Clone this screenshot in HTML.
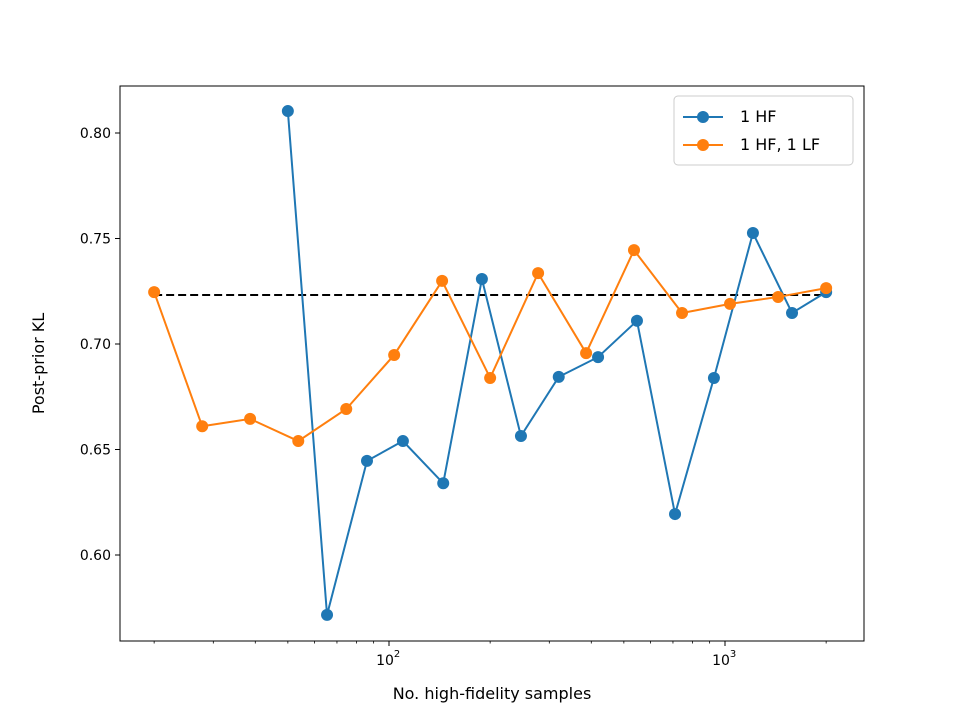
<!DOCTYPE html>
<html><head><meta charset="utf-8"><style>
body{margin:0;background:#fff;}
text{font-family:"DejaVu Sans","Liberation Sans",sans-serif;fill:#000;}
</style></head><body>
<svg id="chart" width="960" height="720" xmlns="http://www.w3.org/2000/svg"></svg>
<script>
const hfX=[50,65.4,86,110,145,189,247,320,419,547,710,927,1211,1583,2000];
const hfY=[0.8104,0.5716,0.6446,0.654,0.634,0.7308,0.6564,0.6844,0.6938,0.711,0.6194,0.6839,0.7526,0.7147,0.7246];
const lfX=[20,27.8,38.6,53.7,74.6,103.6,143.9,200,277.8,386,536,745,1035,1439,2000];
const lfY=[0.7246,0.661,0.6645,0.654,0.6692,0.6948,0.7299,0.6839,0.7336,0.6957,0.7445,0.7147,0.719,0.7223,0.7265];
const refValue=0.7232;
const yTicks=[0.60,0.65,0.70,0.75,0.80];
const yTickLabels=["0.60","0.65","0.70","0.75","0.80"];
const xMajor=[100,1000];

const L=120,R=864,T=86,B=641;
const xs=v=>389+(Math.log10(v)-2)*336;
const ys=v=>555-(v-0.6)*2110;
const svg=document.getElementById('chart');
const NS='http://www.w3.org/2000/svg';
function mk(tag,attrs,parent){const e=document.createElementNS(NS,tag);for(const k in attrs)e.setAttribute(k,attrs[k]);(parent||svg).appendChild(e);return e;}

const frame=mk('rect',{x:L,y:T,width:R-L,height:B-T,fill:'none',stroke:'#000','stroke-width':1});



yTicks.forEach((v,i)=>{
  const y=ys(v);
  const t=mk('line',{x1:L-5,x2:L,y1:y,y2:y,stroke:'#000'});
  
  
  const tx=mk('text',{x:L-9,y:y+5,'text-anchor':'end','font-size':14});
  tx.textContent=yTickLabels[i];
  
  
});
// minor x ticks
for(let d=10;d<=1000;d*=10){for(let m=2;m<=9;m++){const v=d*m;if(v<15||v>2800)continue;const x=xs(v);if(x<L||x>R)continue;
  const t=mk('line',{x1:x,x2:x,y1:B,y2:B+2.5,stroke:'#000','stroke-width':0.8});
  
  }}
xMajor.forEach(v=>{
  const x=xs(v);
  const t=mk('line',{x1:x,x2:x,y1:B,y2:B+5,stroke:'#000'});
  
  
  const tx=mk('text',{x:x-4,y:B+24,'text-anchor':'middle','font-size':14});
  tx.textContent='10';
  
  
  const ex=mk('text',{x:x+8,y:B+16,'text-anchor':'middle','font-size':10});
  ex.textContent=String(Math.round(Math.log10(v)));
  
  
});

const ref=mk('line',{x1:xs(20),x2:xs(2000),y1:ys(refValue),y2:ys(refValue),stroke:'#000','stroke-width':2,'stroke-dasharray':'8,4'});



function series(X,Y,color,name){
  const g=mk('g',{});
  
  
  const pl=mk('polyline',{points:X.map((x,i)=>xs(x)+','+ys(Y[i])).join(' '),fill:'none',stroke:color,'stroke-width':2},g);
  
  
  X.forEach((x,i)=>{const c=mk('circle',{cx:xs(x),cy:ys(Y[i]),r:6,fill:color},g);
    
    });
}
series(hfX,hfY,'#1f77b4','series-1hf');
series(lfX,lfY,'#ff7f0e','series-1hf-1lf');

const ylab=mk('text',{x:44,y:(T+B)/2,'text-anchor':'middle','font-size':16,transform:`rotate(-90 44 ${(T+B)/2})`});
ylab.textContent='Post-prior KL';


const xlab=mk('text',{x:(L+R)/2,y:699,'text-anchor':'middle','font-size':16});
xlab.textContent='No. high-fidelity samples';



const lg=mk('g',{});


mk('rect',{x:674,y:96,width:179,height:69,rx:4,fill:'#fff',stroke:'#ccc'},lg);
[['1 HF','#1f77b4',117],['1 HF, 1 LF','#ff7f0e',145]].forEach(([lab,c,y])=>{
  const e=mk('g',{},lg);
  
  
  mk('line',{x1:683,x2:723,y1:y,y2:y,stroke:c,'stroke-width':2},e);
  mk('circle',{cx:703,cy:y,r:6,fill:c},e);
  const t=mk('text',{x:740,y:y+5,'font-size':16},e);t.textContent=lab;
});
</script>
</body></html>
